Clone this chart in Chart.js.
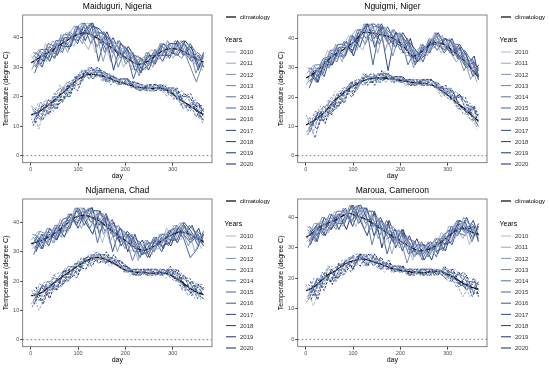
<!DOCTYPE html>
<html>
<head>
<meta charset="utf-8">
<script src="https://cdn.jsdelivr.net/npm/chart.js@4.4.1/dist/chart.umd.min.js"></script>
<style>
  body { margin: 0; background: #fff; }
  #wrap { position: relative; width: 550px; height: 368px; }
  canvas { position: absolute; }
</style>
</head>
<body>
<div id="wrap">
  <canvas id="c0" width="275" height="184" style="left:0;top:0"></canvas>
  <canvas id="c1" width="275" height="184" style="left:275px;top:0"></canvas>
  <canvas id="c2" width="275" height="184" style="left:0;top:184px"></canvas>
  <canvas id="c3" width="275" height="184" style="left:275px;top:184px"></canvas>
</div>
<script>
// years and tick labels
const years = ['2010', '2011', '2012', '2013', '2014', '2015', '2016', '2017', '2018', '2019', '2020'];
const yearColors = ['#a9b7c9', '#94a5bf', '#7f93b5', '#6b82ab', '#5871a2', '#476298', '#38548f', '#2b4786', '#203b7d', '#172f74', '#10256b'];
const xTicks = [0, 100, 200, 300];
const yTicks = [0, 10, 20, 30, 40];
const climDays = [1, 16, 31, 46, 61, 76, 91, 106, 121, 136, 151, 166, 181, 196, 211, 226, 241, 256, 271, 286, 301, 316, 331, 346, 361, 365];
const sampleStep = 15; // each year sampled every 15 days, shifted by one day per year

// Maiduguri, Nigeria
const maidClimMax = [31.5, 33, 34.5, 35.8, 37.5, 39, 40.5, 41.5, 41.5, 40.3, 38.8, 37.2, 35.5, 33.8, 32.2, 31, 31.5, 33, 34.8, 36, 36.3, 35.8, 34.6, 33.2, 32, 31.8];
const maidClimMin = [13.8, 14.8, 16.3, 18.3, 20.5, 22.5, 24.8, 26.5, 27.5, 27.5, 27, 26.2, 25.3, 24.5, 23.8, 23.2, 23, 22.8, 23, 22.3, 20.8, 19, 17.5, 15.8, 14.3, 14];
const maidMax = [
  [34,30,38,34,39,42,37,44,45,35,41,34,38,30,35,29,33,36,33,38,33,38,33,36,31],
  [29,35,34,39,35,40,44,40,36,43,38,39,32,36,30,34,29,34,37,33,38,35,38,31,34],
  [33,36,32,37,40,35,43,45,41,42,32,40,35,37,29,32,34,30,38,35,37,39,34,34,29],
  [30,32,37,33,41,38,42,38,45,41,42,32,39,33,34,27,35,32,33,39,35,33,37,28,34],
  [35,34,33,38,36,41,39,45,43,37,42,38,30,37,31,33,30,35,36,34,39,37,31,25,32],
  [31,36,36,33,40,36,44,41,44,43,35,39,37,31,35,28,34,31,38,37,34,38,36,32,34],
  [34,31,38,37,35,42,40,44,38,42,41,35,39,35,26,33,31,36,34,38,38,34,38,34,30],
  [28,34,33,39,39,37,43,41,45,32,41,38,34,36,33,28,35,31,37,33,37,39,33,35,33],
  [33,30,37,35,41,41,38,45,40,41,36,40,35,32,34,33,29,35,32,38,38,34,37,29,34],
  [30,35,32,38,37,37,44,39,44,43,40,29,38,36,29,30,34,34,34,34,39,35,32,34,30],
  [35,32,36,34,40,40,39,43,45,38,42,36,33,37,33,29,31,35,38,35,34,39,36,30,35]
];
const maidMin = [
  [12,18,13,20,19,25,23,29,29,26,29,25,26,24,25,23,22,24,22,24,19,21,15,18,15],
  [17,9,18,16,24,21,26,25,30,29,25,28,24,26,23,24,24,22,24,21,23,17,20,14,12],
  [11,16,19,15,22,25,23,29,26,30,26,27,25,26,23,24,22,24,23,20,23,17,17,19,11],
  [16,13,14,21,23,21,27,25,30,27,28,24,26,24,25,22,24,22,24,22,20,22,19,13,16],
  [10,18,17,17,18,25,26,28,26,29,28,26,24,26,24,22,24,23,22,23,23,18,15,17,17],
  [15,12,18,20,20,20,27,26,29,29,25,27,26,24,25,23,22,24,24,21,19,20,20,15,12],
  [12,16,14,21,18,24,27,29,27,27,28,27,24,25,25,24,22,22,24,22,22,16,17,18,15],
  [16,14,19,16,22,20,27,27,29,30,26,25,26,26,23,22,24,23,22,23,20,20,21,15,12],
  [11,17,14,19,23,24,22,28,30,27,27,27,24,26,24,22,24,24,23,21,23,18,16,18,15],
  [15,12,17,19,19,22,27,28,28,29,25,27,25,24,25,24,23,22,24,22,19,21,19,13,16],
  [13,17,17,16,23,24,24,29,26,29,28,25,26,26,23,23,24,24,22,23,22,17,16,17,13]
];

// Nguigmi, Niger
const nguiClimMax = [26.5, 28, 30, 32.5, 34.5, 35.8, 37.5, 39.5, 42, 42, 41.5, 41, 40.3, 39, 36.5, 34, 35, 37, 38.6, 38.3, 37, 35, 33, 30.5, 27.5, 27];
const nguiClimMin = [10.5, 11.8, 13.5, 16, 18.8, 20.8, 22.8, 24.3, 25.5, 26.3, 26.5, 26.5, 26.2, 25.8, 25.4, 25, 24.8, 24.5, 23.8, 22.3, 20.5, 18.5, 16.6, 14.5, 12.3, 12];
const nguiMax = [
  [24,30,29,36,32,37,41,38,36,45,41,43,36,41,35,37,32,38,41,35,39,34,36,29,30],
  [28,31,27,34,37,32,40,43,41,44,35,44,39,42,34,35,37,34,42,37,38,38,32,32,25],
  [25,27,32,30,38,35,39,36,45,43,45,36,43,38,39,30,38,36,37,41,36,32,35,26,30],
  [30,29,28,35,33,38,36,43,43,39,45,42,34,42,36,36,33,39,40,36,40,36,29,33,28],
  [26,31,31,30,37,33,41,39,44,45,38,43,41,36,40,31,37,35,42,39,35,37,34,30,30],
  [29,26,33,34,32,39,37,42,38,44,44,39,43,40,31,36,34,40,38,40,39,33,36,32,26],
  [23,29,28,36,36,34,40,39,45,31,44,42,38,41,38,31,38,35,41,35,38,38,31,33,29],
  [28,25,32,32,38,38,35,43,40,43,39,44,39,37,39,36,32,39,36,40,39,33,35,27,30],
  [25,30,27,35,34,34,41,37,44,45,43,29,42,41,34,33,37,38,38,36,40,34,30,32,26],
  [30,27,31,31,37,37,36,41,45,40,45,40,37,42,38,32,34,39,42,37,35,38,34,28,31],
  [29,25,33,31,36,39,34,42,45,37,44,38,42,35,40,32,36,40,37,40,34,37,31,34,27]
];
const nguiMin = [
  [14,8,16,14,22,19,24,22,28,27,25,29,25,27,24,26,26,24,25,21,23,17,19,13,10],
  [8,13,17,13,20,23,21,26,24,28,26,28,26,27,24,26,24,26,24,20,23,17,16,18,9],
  [13,10,12,19,21,19,25,22,28,25,28,25,27,25,26,24,26,24,25,22,20,22,18,12,14],
  [7,15,15,15,16,23,24,25,24,27,28,27,25,27,25,24,26,25,23,23,23,18,14,16,15],
  [12,6,16,18,18,18,25,23,27,27,25,28,27,25,26,25,24,26,25,21,19,20,19,14,10],
  [9,13,12,19,16,22,25,26,25,25,28,28,25,26,26,26,24,24,25,22,22,16,16,17,13],
  [13,11,17,14,20,18,25,24,27,28,26,26,27,27,24,24,26,25,23,23,20,20,20,14,10],
  [8,14,12,17,21,22,20,25,28,25,27,28,25,27,25,24,26,26,24,21,23,18,15,17,13],
  [12,9,15,17,17,20,25,25,26,27,25,28,26,25,26,26,25,24,25,22,19,21,18,12,14],
  [10,14,15,14,21,22,22,26,24,27,28,26,27,27,24,25,26,26,23,23,22,17,15,16,11],
  [9,15,11,18,17,23,21,26,27,24,29,26,27,25,26,25,24,26,23,24,19,21,14,17,13]
];

// Ndjamena, Chad
const ndjaClimMax = [32.8, 33.5, 34.5, 35.8, 37.5, 39.5, 41.5, 42.3, 42.2, 41.3, 39.8, 37.8, 36, 34.2, 32.5, 31, 30.5, 31.5, 33, 34.8, 36, 36.8, 36.3, 35, 33.8, 33.5];
const ndjaClimMin = [15, 15.5, 17, 19, 20.8, 22.5, 24.2, 25.8, 27.2, 28, 27.8, 26.8, 25.5, 24, 23.3, 23, 22.8, 22.7, 22.8, 22.6, 21.5, 20, 18.2, 16.6, 15.6, 15.4];
const ndjaMax = [
  [34,37,32,37,40,36,44,45,41,43,33,41,35,37,30,32,33,29,36,34,37,40,35,36,31],
  [31,33,37,33,41,39,43,38,45,42,43,33,39,33,35,27,34,31,31,38,35,34,38,30,36],
  [36,35,33,38,36,42,40,45,43,38,43,39,30,37,32,33,29,34,34,33,39,38,32,37,34],
  [32,37,36,33,40,37,45,41,44,44,36,40,37,31,36,28,33,30,36,36,34,39,37,34,36],
  [35,32,38,37,35,43,41,44,38,43,42,36,39,35,27,33,30,35,32,37,38,35,39,36,32],
  [29,35,33,39,39,38,44,41,45,33,42,39,34,36,34,28,34,30,35,32,37,40,34,37,35],
  [34,31,37,35,41,42,39,45,40,42,37,41,35,32,35,33,28,34,30,37,38,35,28,31,36],
  [31,36,32,38,37,38,45,39,44,44,41,30,38,36,30,30,33,33,32,33,39,36,33,36,32],
  [36,33,36,34,40,41,40,43,45,39,43,37,33,37,34,29,30,34,36,34,34,40,37,32,37],
  [35,31,38,34,39,43,38,44,45,36,42,35,38,30,36,29,32,35,31,37,33,39,34,38,33],
  [30,36,34,39,35,41,45,40,36,44,39,40,32,36,31,34,28,33,35,32,38,36,39,33,36]
];
const ndjaMin = [
  [12,17,20,16,22,25,22,28,25,30,27,28,26,25,22,24,22,24,23,21,24,18,17,20,13],
  [17,10,15,22,23,21,26,24,29,27,29,25,27,23,24,22,24,22,24,23,21,23,19,14,18],
  [11,19,18,18,18,25,25,27,25,29,29,27,25,25,23,22,24,23,22,24,24,19,15,18,19],
  [16,13,19,21,20,20,26,25,28,29,26,28,27,23,24,23,22,24,24,22,20,21,20,16,14],
  [13,17,15,22,18,24,26,28,26,27,29,28,25,24,24,24,22,22,24,23,23,17,17,19,17],
  [17,15,20,17,22,20,26,26,28,30,27,26,27,25,22,22,24,23,22,24,21,21,21,16,14],
  [12,18,15,20,23,24,21,27,29,27,28,28,25,25,23,22,24,24,23,22,24,19,16,19,17],
  [16,13,18,20,19,22,26,27,27,29,26,28,26,23,24,24,23,22,24,23,20,22,19,14,18],
  [14,18,18,17,23,24,23,28,25,29,29,26,27,25,22,23,24,24,22,24,23,18,16,18,15],
  [13,19,14,21,19,25,22,28,28,26,30,26,27,23,24,23,22,24,22,25,20,22,15,19,17],
  [18,12,19,17,24,21,25,24,29,29,26,29,25,25,22,24,24,22,24,22,24,18,20,15,14]
];

// Maroua, Cameroon
const marClimMax = [33.5, 35, 37, 38, 39, 40.3, 41.3, 40.5, 39.8, 38.5, 37, 35.5, 34, 32.5, 31.2, 29.8, 29, 29.3, 30.3, 31.8, 33.8, 35.5, 36.5, 35.5, 34.6, 34.5];
const marClimMin = [16, 17, 19, 21, 22.3, 24, 25.3, 26, 26.3, 25.8, 25, 24.2, 23.3, 22.8, 22.4, 22, 21.8, 22, 22.2, 22.2, 21.3, 20, 18.5, 17.3, 16.6, 16.5];
const marMax = [
  [32,34,39,35,42,39,42,37,43,40,40,31,37,32,33,26,32,28,28,35,33,33,39,31,37],
  [37,36,35,40,37,42,39,44,41,36,40,37,28,36,30,32,27,31,31,30,37,37,33,38,35],
  [33,38,38,35,41,37,44,40,42,42,33,38,35,30,34,27,31,27,33,33,32,38,38,35,37],
  [36,33,40,39,36,43,40,43,36,41,39,34,37,34,25,32,28,32,29,34,36,34,40,37,33],
  [30,36,35,41,40,38,43,40,43,31,39,37,32,35,32,27,32,27,32,29,35,39,35,38,36],
  [35,32,39,37,42,42,38,44,38,40,34,39,33,31,33,32,26,31,27,34,36,34,39,32,37],
  [32,37,34,40,38,38,44,38,42,42,38,28,36,35,28,29,31,30,29,30,37,35,34,37,33],
  [37,34,38,36,41,41,39,42,43,37,40,35,31,36,32,28,28,31,33,31,32,39,38,33,38],
  [36,32,40,36,40,43,37,43,43,34,39,33,36,29,34,28,30,32,28,34,31,38,35,39,34],
  [31,37,36,41,36,41,44,39,34,42,36,38,30,35,29,33,26,30,32,29,36,35,40,34,37],
  [35,38,34,39,41,36,43,44,39,41,30,39,33,36,28,31,31,26,33,31,35,39,36,37,32]
];
const marMin = [
  [18,11,17,24,24,22,27,24,28,25,26,22,24,22,23,21,23,21,23,22,20,23,20,14,19],
  [12,20,20,20,19,26,26,27,24,27,26,24,22,24,22,21,23,22,21,23,23,19,14,18,20],
  [17,14,21,23,21,21,27,25,27,27,23,25,24,22,23,22,21,23,23,21,19,21,21,16,15],
  [14,18,17,24,19,25,27,28,25,25,26,25,22,23,23,23,21,21,23,22,22,17,18,19,18],
  [18,16,22,19,23,21,27,26,27,28,24,23,24,24,21,21,23,22,21,23,20,21,22,16,15],
  [13,19,17,22,24,25,22,27,28,25,25,25,22,24,22,21,23,23,22,21,23,19,17,19,18],
  [17,14,20,22,20,23,27,27,26,27,23,25,23,22,23,23,22,21,23,22,19,22,20,14,19],
  [15,19,20,19,24,25,24,28,24,27,26,23,24,24,21,22,23,23,21,23,22,18,17,18,16],
  [14,20,16,23,20,26,23,28,27,24,27,23,24,22,23,22,21,23,21,24,19,22,16,19,18],
  [19,13,21,19,25,22,26,24,28,27,23,26,22,24,21,23,23,21,23,21,23,18,21,15,15],
  [13,18,22,18,23,26,23,28,24,28,24,25,23,24,21,23,21,23,22,20,23,18,18,20,14]
];

Chart.defaults.font.family = '"Liberation Sans", Arial, sans-serif';
Chart.defaults.color = '#000';

function yearPoints(vals, k) {
  return vals.map((v, i) => ({ x: Math.min(365, 1 + k + sampleStep * i), y: v }));
}

const decor = {
  id: 'decor',
  beforeDatasetsDraw(chart) {
    const { ctx, chartArea: a, scales } = chart;
    const y0 = scales.y.getPixelForValue(0);
    ctx.save();
    ctx.strokeStyle = '#555';
    ctx.lineWidth = 0.8;
    ctx.setLineDash([1.5, 2.5]);
    ctx.beginPath();
    ctx.moveTo(a.left, y0);
    ctx.lineTo(a.right, y0);
    ctx.stroke();
    ctx.restore();
  },
  afterDraw(chart) {
    const { ctx, chartArea: a } = chart;
    const o = chart.options.plugins.decor;
    ctx.save();
    ctx.strokeStyle = '#666';
    ctx.lineWidth = 0.8;
    ctx.strokeRect(a.left, a.top, a.right - a.left, a.bottom - a.top);

    ctx.fillStyle = '#000';
    ctx.textBaseline = 'middle';
    ctx.textAlign = 'center';
    ctx.font = '8.5px "Liberation Sans", Arial, sans-serif';
    ctx.fillText(o.title, (a.left + a.right) / 2, 6.5);

    // legend
    ctx.textAlign = 'left';
    ctx.strokeStyle = '#000';
    ctx.lineWidth = 1.2;
    ctx.beginPath();
    ctx.moveTo(226, 17);
    ctx.lineTo(236, 17);
    ctx.stroke();
    ctx.font = '6px "Liberation Sans", Arial, sans-serif';
    ctx.fillText('climatology', 240, 17.5);
    ctx.font = '7px "Liberation Sans", Arial, sans-serif';
    ctx.fillText('Years', 224.5, 40);
    ctx.font = '6px "Liberation Sans", Arial, sans-serif';
    years.forEach((yr, k) => {
      const yy = 52 + 11.2 * k;
      ctx.strokeStyle = yearColors[k];
      ctx.lineWidth = 1;
      ctx.beginPath();
      ctx.moveTo(226, yy);
      ctx.lineTo(236, yy);
      ctx.stroke();
      ctx.fillStyle = '#333';
      ctx.fillText(yr, 240, yy + 0.5);
    });
    ctx.restore();
  }
};

function makePanel(id, title, maxYears, minYears, climMax, climMin, yMax) {
  const datasets = [];
  years.forEach((yr, k) => {
    datasets.push({
      label: yr, data: yearPoints(maxYears[k], k),
      borderColor: yearColors[k], borderWidth: 0.9, pointRadius: 0, tension: 0
    });
    datasets.push({
      label: yr + ' min', data: yearPoints(minYears[k], k),
      borderColor: yearColors[k], borderWidth: 1, pointRadius: 0, tension: 0,
      borderDash: [2.5, 1.5]
    });
  });
  datasets.push({
    label: 'climatology', data: climDays.map((d, i) => ({ x: d, y: climMax[i] })),
    borderColor: '#000', borderWidth: 1.3, pointRadius: 0, tension: 0.4
  });
  datasets.push({
    label: 'climatology min', data: climDays.map((d, i) => ({ x: d, y: climMin[i] })),
    borderColor: '#000', borderWidth: 1.3, pointRadius: 0, tension: 0.4
  });

  new Chart(document.getElementById(id), {
    type: 'line',
    data: { datasets: datasets },
    options: {
      responsive: false,
      animation: false,
      devicePixelRatio: 1,
      layout: { padding: { left: 0, right: 63, top: 15, bottom: 0 } },
      scales: {
        x: {
          type: 'linear', min: -17, max: 383,
          afterBuildTicks: s => { s.ticks = xTicks.map(v => ({ value: v })); },
          afterFit: s => { s.height = 21.3; },
          ticks: { font: { size: 5.5 }, color: '#4d4d4d', padding: 0, maxRotation: 0 },
          grid: { drawOnChartArea: false, tickLength: 3, color: '#444' },
          border: { display: false },
          title: { display: true, text: 'day', font: { size: 7 }, padding: { top: 0, bottom: 4 } }
        },
        y: {
          type: 'linear', min: -2.4, max: yMax,
          afterBuildTicks: s => { s.ticks = yTicks.map(v => ({ value: v })); },
          afterFit: s => { s.width = 22.7; },
          ticks: { font: { size: 5.5 }, color: '#4d4d4d', padding: 1 },
          grid: { drawOnChartArea: false, tickLength: 2.5, color: '#444' },
          border: { display: false },
          title: { display: true, text: 'Temperature (degree C)', font: { size: 7 }, padding: { top: 1.5, bottom: 0 } }
        }
      },
      plugins: {
        legend: { display: false },
        tooltip: { enabled: false },
        decor: { title: title }
      }
    },
    plugins: [decor]
  });
}

makePanel('c0', 'Maiduguri, Nigeria', maidMax, maidMin, maidClimMax, maidClimMin, 47.7);
makePanel('c1', 'Nguigmi, Niger', nguiMax, nguiMin, nguiClimMax, nguiClimMin, 48);
makePanel('c2', 'Ndjamena, Chad', ndjaMax, ndjaMin, ndjaClimMax, ndjaClimMin, 48);
makePanel('c3', 'Maroua, Cameroon', marMax, marMin, marClimMax, marClimMin, 46);
</script>
</body>
</html>
